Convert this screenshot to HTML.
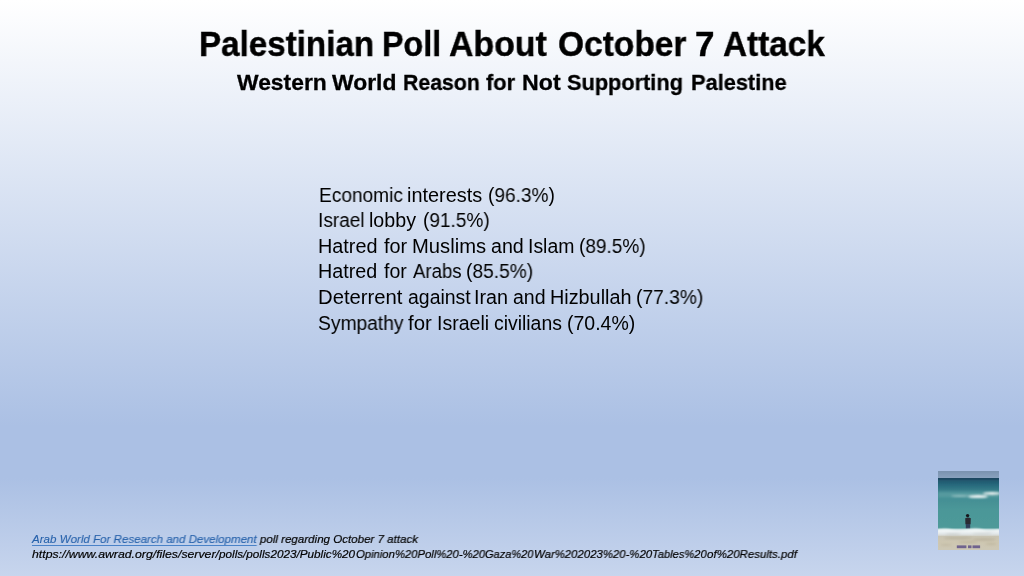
<!DOCTYPE html>
<html><head><meta charset="utf-8">
<style>
html,body{margin:0;padding:0;}
body{width:1024px;height:576px;overflow:hidden;position:relative;
  background:linear-gradient(to bottom,#FFFFFF 0%,#ABC0E4 74%,#ABC0E4 83%,#C7D5ED 100%);
  font-family:"Liberation Sans",sans-serif;color:#000;}
.t{position:absolute;white-space:nowrap;line-height:1;transform-origin:0 0;will-change:transform;}
.title{font-weight:bold;-webkit-text-stroke:0.4px currentColor;}
.sub{font-weight:bold;-webkit-text-stroke:0.3px currentColor;}
.foot{font-style:italic;-webkit-text-stroke:0.2px currentColor;}
.link{color:#2560aa;text-decoration:underline;text-decoration-color:#4a82c8;-webkit-text-stroke:0.1px currentColor;text-underline-offset:1.5px;}
.pic{position:absolute;left:938px;top:470.5px;width:61px;height:79.2px;}

</style></head><body>
<div class="t title" style="left:198.60px;top:26.17px;font-size:35px;transform:scaleX(0.9477);">Palestinian</div>
<div class="t title" style="left:381.87px;top:26.17px;font-size:35px;transform:scaleX(0.9217);">Poll</div>
<div class="t title" style="left:449.34px;top:26.17px;font-size:35px;transform:scaleX(0.9672);">About</div>
<div class="t title" style="left:557.76px;top:26.17px;font-size:35px;transform:scaleX(0.9575);">October</div>
<div class="t title" style="left:695.02px;top:26.17px;font-size:35px;transform:scaleX(1.0007);">7</div>
<div class="t title" style="left:722.98px;top:26.17px;font-size:35px;transform:scaleX(0.952);">Attack</div>
<div class="t sub" style="left:236.76px;top:71.30px;font-size:22.8px;transform:scaleX(1.0023);">Western</div>
<div class="t sub" style="left:332.16px;top:71.30px;font-size:22.8px;transform:scaleX(1.0041);">World</div>
<div class="t sub" style="left:403.41px;top:71.30px;font-size:22.8px;transform:scaleX(0.932);">Reason</div>
<div class="t sub" style="left:486.16px;top:71.30px;font-size:22.8px;transform:scaleX(0.9578);">for</div>
<div class="t sub" style="left:522.48px;top:71.30px;font-size:22.8px;transform:scaleX(1.0161);">Not</div>
<div class="t sub" style="left:567.22px;top:71.30px;font-size:22.8px;transform:scaleX(0.9534);">Supporting</div>
<div class="t sub" style="left:690.99px;top:71.30px;font-size:22.8px;transform:scaleX(0.955);">Palestine</div>
<div class="t body" style="left:318.56px;top:185.68px;font-size:19.4px;transform:scaleX(0.9842);">Economic</div>
<div class="t body" style="left:407.32px;top:185.68px;font-size:19.4px;transform:scaleX(1.025);">interests</div>
<div class="t body" style="left:487.80px;top:185.68px;font-size:19.4px;transform:scaleX(0.9838);">(96.3%)</div>
<div class="t body" style="left:318.25px;top:211.28px;font-size:19.4px;transform:scaleX(0.9845);">Israel</div>
<div class="t body" style="left:369.45px;top:211.28px;font-size:19.4px;transform:scaleX(1.0137);">lobby</div>
<div class="t body" style="left:422.87px;top:211.28px;font-size:19.4px;transform:scaleX(0.981);">(91.5%)</div>
<div class="t body" style="left:318.28px;top:236.88px;font-size:19.4px;transform:scaleX(1.0227);">Hatred</div>
<div class="t body" style="left:383.72px;top:236.88px;font-size:19.4px;transform:scaleX(1.0227);">for</div>
<div class="t body" style="left:412.37px;top:236.88px;font-size:19.4px;transform:scaleX(1.0415);">Muslims</div>
<div class="t body" style="left:490.53px;top:236.88px;font-size:19.4px;transform:scaleX(1.0128);">and</div>
<div class="t body" style="left:527.87px;top:236.88px;font-size:19.4px;transform:scaleX(1.0018);">Islam</div>
<div class="t body" style="left:578.89px;top:236.88px;font-size:19.4px;transform:scaleX(0.9798);">(89.5%)</div>
<div class="t body" style="left:318.45px;top:262.48px;font-size:19.4px;transform:scaleX(1.0172);">Hatred</div>
<div class="t body" style="left:383.93px;top:262.48px;font-size:19.4px;transform:scaleX(1.0091);">for</div>
<div class="t body" style="left:413.04px;top:262.48px;font-size:19.4px;transform:scaleX(0.9578);">Arabs</div>
<div class="t body" style="left:466.41px;top:262.48px;font-size:19.4px;transform:scaleX(0.9884);">(85.5%)</div>
<div class="t body" style="left:318.18px;top:288.08px;font-size:19.4px;transform:scaleX(1.0448);">Deterrent</div>
<div class="t body" style="left:407.96px;top:288.08px;font-size:19.4px;transform:scaleX(1.0029);">against</div>
<div class="t body" style="left:474.10px;top:288.08px;font-size:19.4px;transform:scaleX(1.0175);">Iran</div>
<div class="t body" style="left:512.95px;top:288.08px;font-size:19.4px;transform:scaleX(1.0079);">and</div>
<div class="t body" style="left:550.02px;top:288.08px;font-size:19.4px;transform:scaleX(1.0213);">Hizbullah</div>
<div class="t body" style="left:636.10px;top:288.08px;font-size:19.4px;transform:scaleX(0.9904);">(77.3%)</div>
<div class="t body" style="left:318.25px;top:313.68px;font-size:19.4px;transform:scaleX(0.9919);">Sympathy</div>
<div class="t body" style="left:408.06px;top:313.68px;font-size:19.4px;transform:scaleX(1.0531);">for</div>
<div class="t body" style="left:436.97px;top:313.68px;font-size:19.4px;transform:scaleX(1.0072);">Israeli</div>
<div class="t body" style="left:494.02px;top:313.68px;font-size:19.4px;transform:scaleX(0.9989);">civilians</div>
<div class="t body" style="left:566.78px;top:313.68px;font-size:19.4px;transform:scaleX(1.0047);">(70.4%)</div>
<div class="t foot" style="left:31.90px;top:532.98px;font-size:11.6px;transform:scaleX(0.9965);"><span class="link">Arab World For Research and Development</span> poll regarding October 7 attack</div>
<div class="t foot" style="left:32.47px;top:548.18px;font-size:11.6px;transform:scaleX(1.0588);">https://www.awrad.org/files/server/</div>
<div class="t foot" style="left:219.45px;top:548.18px;font-size:11.6px;transform:scaleX(1.0101);">polls/polls2023/Public%20</div>
<div class="t foot" style="left:355.61px;top:548.18px;font-size:11.6px;transform:scaleX(0.9728);">Opinion%20Poll%20-%20</div>
<div class="t foot" style="left:485.22px;top:548.18px;font-size:11.6px;transform:scaleX(0.9498);">Gaza%20</div>
<div class="t foot" style="left:533.66px;top:548.18px;font-size:11.6px;transform:scaleX(0.9825);">War%202023%20-%20</div>
<div class="t foot" style="left:651.59px;top:548.18px;font-size:11.6px;transform:scaleX(0.9593);">Tables%20</div>
<div class="t foot" style="left:706.77px;top:548.18px;font-size:11.6px;transform:scaleX(0.9902);">of%20Results.pdf</div>
<svg class="pic" viewBox="0 0 61 79.2" preserveAspectRatio="none">
<defs>
<linearGradient id="sky" x1="0" y1="0" x2="0" y2="1"><stop offset="0" stop-color="#7890ad"/><stop offset="1" stop-color="#8aa2be"/></linearGradient>
<linearGradient id="sea" x1="0" y1="0" x2="0" y2="1">
<stop offset="0" stop-color="#1c4d66"/><stop offset="0.12" stop-color="#26667a"/><stop offset="0.3" stop-color="#3f8a92"/><stop offset="0.6" stop-color="#4b9798"/><stop offset="1" stop-color="#4e9a99"/></linearGradient>
<linearGradient id="foam" x1="0" y1="0" x2="0" y2="1"><stop offset="0" stop-color="#a9cfcf"/><stop offset="0.3" stop-color="#e9eff1"/><stop offset="0.7" stop-color="#e0e5e6"/><stop offset="1" stop-color="#cdcabd"/></linearGradient>
<linearGradient id="sand" x1="0" y1="0" x2="0" y2="1"><stop offset="0" stop-color="#c8c4b3"/><stop offset="0.4" stop-color="#cec7b1"/><stop offset="1" stop-color="#cdc8b7"/></linearGradient>
<filter id="bl" x="0" y="0" width="100%" height="100%"><feGaussianBlur stdDeviation="0.45"/></filter>
<filter id="bl2" x="-20%" y="-50%" width="140%" height="200%"><feGaussianBlur stdDeviation="0.8"/></filter>
</defs>
<g filter="url(#bl)">
<rect x="-1" y="-1" width="63" height="8.2" fill="url(#sky)"/>
<rect x="-1" y="7" width="63" height="52" fill="url(#sea)"/>
<rect x="-1" y="7" width="63" height="1.6" fill="#1a4660"/>
<g filter="url(#bl2)">
<rect x="0" y="20.5" width="61" height="6" fill="#85b9b9" opacity="0.3"/>
<ellipse cx="54" cy="22.4" rx="9" ry="1.3" fill="#f2f6f6"/>
<ellipse cx="40" cy="25.6" rx="10" ry="1.5" fill="#f0f5f5"/>
<ellipse cx="22" cy="25" rx="9" ry="0.9" fill="#b9d6d6" opacity="0.6"/>
</g>
<circle cx="29.6" cy="44.6" r="1.7" fill="#16161c"/>
<path d="M27.2 47.2 Q30 45.6 32.8 47.2 L32.6 53.2 L27.4 53.2 Z" fill="#2a2a32"/>
<rect x="27.8" y="53" width="4.4" height="5.2" fill="#2f3d58"/>
<rect x="-1" y="57.5" width="63" height="8" fill="url(#foam)"/>
<g filter="url(#bl2)">
<path d="M0 58.5 Q8 57 14 59 T30 58.5 T46 59.5 T61 58.5 L61 61 L0 61 Z" fill="#f4f7f8" opacity="0.8"/>
<ellipse cx="15" cy="63" rx="8" ry="0.8" fill="#b9bcb6" opacity="0.6"/>
<ellipse cx="44" cy="62.5" rx="10" ry="0.8" fill="#c0c4bf" opacity="0.6"/>
</g>
<rect x="-1" y="65" width="63" height="15" fill="url(#sand)"/>
<g filter="url(#bl2)" opacity="0.65">
<ellipse cx="20" cy="67.2" rx="14" ry="0.8" fill="#a89f88"/>
<ellipse cx="46" cy="68.5" rx="12" ry="0.9" fill="#aea48e"/>
<ellipse cx="30" cy="71.2" rx="10" ry="0.7" fill="#b3a98f"/>
<ellipse cx="53" cy="73" rx="6" ry="0.7" fill="#b3a98f"/>
<ellipse cx="8" cy="74" rx="6" ry="0.7" fill="#b8ae96"/>
</g>
<g fill="#5f5288" opacity="0.85">
<rect x="18.8" y="74.4" width="9.6" height="2.8"/>
<rect x="30" y="74.4" width="3.5" height="2.8"/>
<rect x="34.5" y="74.4" width="7.6" height="2.8"/>
</g>
</g>
</svg>

</body></html>
